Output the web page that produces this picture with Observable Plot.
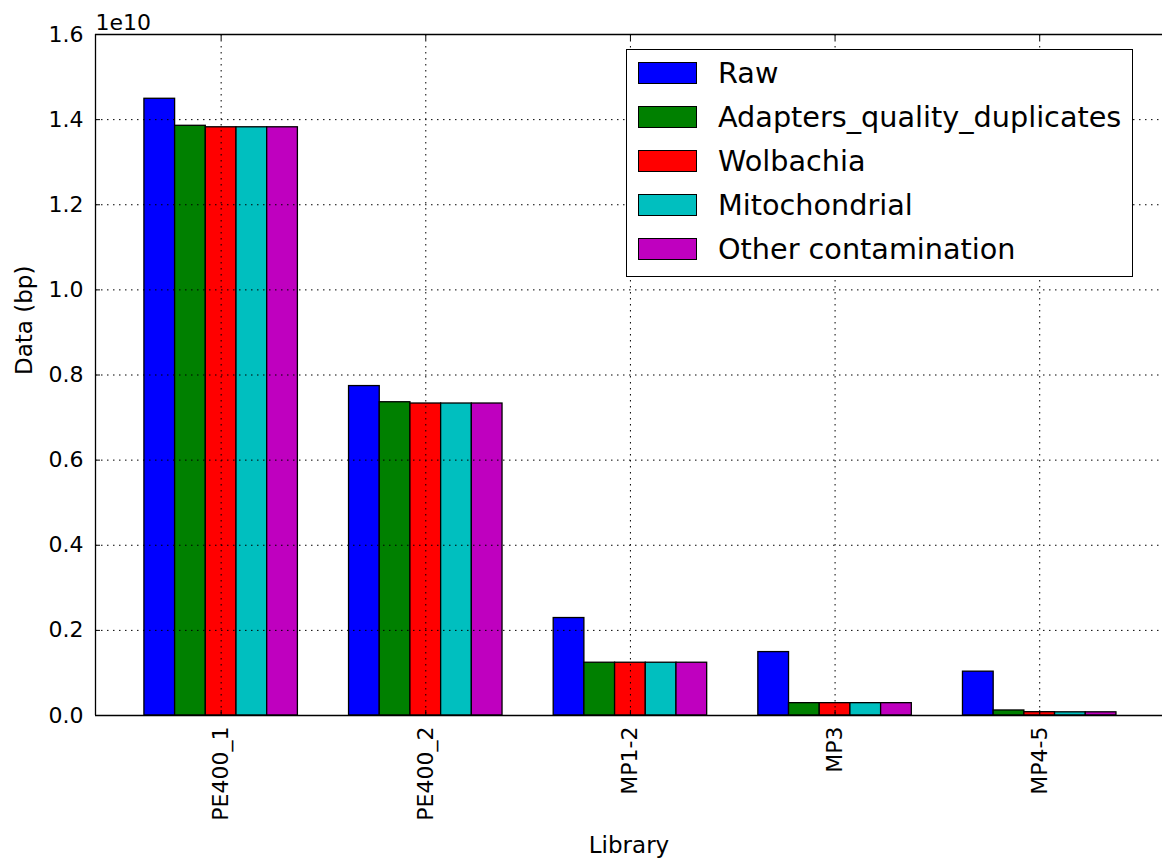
<!DOCTYPE html>
<html>
<head>
<meta charset="utf-8">
<script src="https://cdn.jsdelivr.net/npm/d3@7"></script>
<script src="https://cdn.jsdelivr.net/npm/@observablehq/plot@0.6"></script>
<style>
  html, body { margin: 0; padding: 0; background: #fff; overflow: hidden; }
  #wrap { position: relative; width: 1163px; height: 865px; font-family: "DejaVu Sans", sans-serif; }
  #legend { position: absolute; left: 626px; top: 49px; width: 505px; height: 226px; border: 1.5px solid #000; background: #fff; }
  .row { position: absolute; left: 11px; height: 22px; display: flex; align-items: center; }
  .sw { width: 57px; height: 20px; border: 1.2px solid #000; }
  .lab { position: absolute; left: 80px; font-size: 28.7px; white-space: nowrap; color: #000; line-height: 22px; }
</style>
</head>
<body>
<div id="wrap"></div>
<script>
const categories = ["PE400_1", "PE400_2", "MP1-2", "MP3", "MP4-5"];
const series = ["Raw", "Adapters_quality_duplicates", "Wolbachia", "Mitochondrial", "Other contamination"];
const colors = ["#0000ff", "#008000", "#ff0000", "#00bfbf", "#bf00bf"];
const raw       = [1.449e10, 0.774e10, 0.229e10, 0.149e10, 0.103e10];
const adapters  = [1.3855e10, 0.736e10, 0.124e10, 0.029e10, 0.0118e10];
const wolbachia = [1.382e10, 0.733e10, 0.124e10, 0.029e10, 0.0078e10];
const mito      = [1.382e10, 0.733e10, 0.124e10, 0.029e10, 0.0075e10];
const other     = [1.382e10, 0.733e10, 0.124e10, 0.029e10, 0.0075e10];
const yTicks = [0, 0.2e10, 0.4e10, 0.6e10, 0.8e10, 1.0e10, 1.2e10, 1.4e10, 1.6e10];
const xDomain = [-0.614, 4.6];
const groupWidth = 0.75;

const values = [raw, adapters, wolbachia, mito, other];
const barW = groupWidth / series.length;
const rows = [];
values.forEach((arr, s) => arr.forEach((v, i) => {
  const x1 = i - groupWidth / 2 + s * barW;
  rows.push({series: series[s], cat: categories[i], x1, x2: x1 + barW, v});
}));
const catIdx = categories.map((_, i) => i);
const fs = 22;

const chart = Plot.plot({
  width: 1163,
  height: 865,
  marginLeft: 95,
  marginRight: 1,
  marginTop: 34,
  marginBottom: 150,
  style: {fontFamily: "DejaVu Sans, sans-serif", fontSize: fs + "px", color: "#000", background: "#fff", overflow: "visible"},
  x: {type: "linear", domain: xDomain},
  y: {domain: [0, 1.6e10]},
  color: {domain: series, range: colors},
  marks: [
    Plot.rect(rows, {x1: "x1", x2: "x2", y1: () => 0, y2: "v", fill: "series", stroke: "#000", strokeWidth: 1.3}),
    Plot.ruleX(catIdx, {x: d => d, stroke: "#000", strokeWidth: 1, strokeDasharray: "1.5,4.5"}),
    Plot.ruleY(yTicks, {y: d => d, stroke: "#000", strokeWidth: 1, strokeDasharray: "1.5,4.5"}),
    Plot.axisX({ticks: catIdx, tickSize: 0, tickPadding: 11, tickRotate: -90, fontSize: fs, tickFormat: i => categories[i], label: null}),
    Plot.axisX({ticks: catIdx, tickSize: 5, dy: -5, tickFormat: () => "", label: null}),
    Plot.axisX({ticks: catIdx, anchor: "top", tickSize: 5, dy: 5, tickFormat: () => "", label: null}),
    Plot.axisY({ticks: yTicks, tickSize: 0, tickPadding: 12, fontSize: fs, tickFormat: d => (d / 1e10).toFixed(1), label: null}),
    Plot.axisY({ticks: yTicks, tickSize: 5, dx: 5, tickFormat: () => "", label: null}),
    Plot.ruleY([0], {stroke: "#000", strokeWidth: 1.3}),
    Plot.ruleY([1.6e10], {stroke: "#000", strokeWidth: 1.3}),
    Plot.ruleX([xDomain[0]], {stroke: "#000", strokeWidth: 1.3}),
    Plot.text(["1e10"], {frameAnchor: "top-left", text: d => d, textAnchor: "start", lineAnchor: "bottom", dy: -5, fontSize: fs}),
    Plot.text(["Library"], {frameAnchor: "bottom", text: d => d, lineAnchor: "bottom", dy: 137, fontSize: 23}),
    Plot.text(["Data (bp)"], {frameAnchor: "left", text: d => d, rotate: -90, lineAnchor: "middle", dx: -71, fontSize: 23})
  ]
});
const wrap = document.getElementById("wrap");
wrap.appendChild(chart);

const legend = document.createElement("div");
legend.id = "legend";
series.forEach((s, k) => {
  const row = document.createElement("div");
  row.className = "row";
  row.style.top = (12 + k * 44) + "px";
  const sw = document.createElement("div");
  sw.className = "sw";
  sw.style.background = colors[k];
  const lab = document.createElement("div");
  lab.className = "lab";
  lab.textContent = s;
  row.appendChild(sw);
  row.appendChild(lab);
  legend.appendChild(row);
});
wrap.appendChild(legend);
</script>
</body>
</html>
